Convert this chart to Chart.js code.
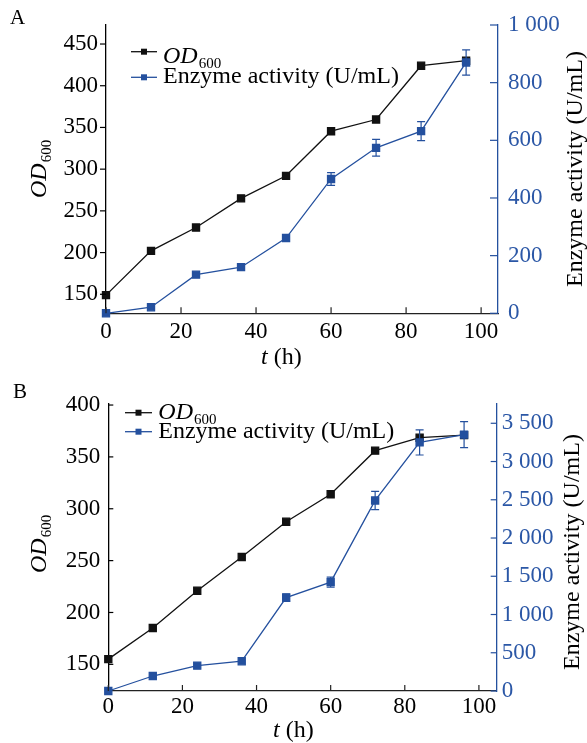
<!DOCTYPE html>
<html><head><meta charset="utf-8">
<script src="https://cdn.jsdelivr.net/npm/chart.js@4"></script>
<style>html,body{margin:0;padding:0;background:#fff;}canvas{display:block;}</style>
</head><body>
<canvas id="cA" width="587" height="370"></canvas>
<canvas id="cB" width="587" height="373"></canvas>
<script>
// ---- data ----
const timeH = [0, 12, 24, 36, 48, 60, 72, 84, 96];
const odA = [149, 202, 230, 265, 292, 345.5, 359.5, 424, 430];
const enzA = [0, 21, 134, 160, 261, 466, 574, 632, 870];
const enzErrA = [0, 0, 0, 0, 0, 22, 29, 33, 44];
const odB = [155, 185, 221, 253.5, 287.5, 314, 356, 368.5, 371];
const enzB = [0, 196, 331, 389, 1221, 1423, 2491, 3250, 3351];
const enzErrB = [0, 0, 0, 0, 50, 65, 120, 165, 170];
const xTicks = [0, 20, 40, 60, 80, 100];
const leftTicksA = [150, 200, 250, 300, 350, 400, 450];
const rightTicksA = [0, 200, 400, 600, 800, 1000];
const rightTickLabelsA = ['0', '200', '400', '600', '800', '1 000'];
const leftTicksB = [150, 200, 250, 300, 350, 400];
const rightTicksB = [0, 500, 1000, 1500, 2000, 2500, 3000, 3500];
const rightTickLabelsB = ['0', '500', '1 000', '1 500', '2 000', '2 500', '3 000', '3 500'];
const seriesNames = ['OD', '600', 'Enzyme activity (U/mL)'];
const rightTitle = 'Enzyme activity (U/mL)';
const xTitle = ['t', ' (h)'];

const BLACK = '#111111', BLUE = '#24509e', BLUE_TXT = '#2b57a6';
const FAM = "'Liberation Serif','Times New Roman',serif";
const TXT = 24, TICK = 23;
Chart.defaults.font.family = FAM;

function drawOD(ctx, x, y, size, color) {
  ctx.fillStyle = color;
  ctx.textAlign = 'left'; ctx.textBaseline = 'alphabetic';
  ctx.font = 'italic ' + size + 'px ' + FAM;
  ctx.fillText(seriesNames[0], x, y);
  const w = ctx.measureText(seriesNames[0]).width;
  ctx.font = Math.round(size * 0.64) + 'px ' + FAM;
  ctx.fillText(seriesNames[1], x + w + 1, y + 5);
}

const deco = {
  id: 'deco',
  afterDatasetsDraw(chart, args, o) {
    const ctx = chart.ctx, xs = chart.scales.x, ys = chart.scales.y1;
    ctx.save();
    ctx.strokeStyle = BLUE; ctx.lineWidth = 1.2;
    o.err.forEach((e, i) => {
      if (!e) return;
      const px = xs.getPixelForValue(timeH[i]);
      const y1 = ys.getPixelForValue(o.enz[i] - e), y2 = ys.getPixelForValue(o.enz[i] + e);
      ctx.beginPath();
      ctx.moveTo(px, y1); ctx.lineTo(px, y2);
      ctx.moveTo(px - 4, y1); ctx.lineTo(px + 4, y1);
      ctx.moveTo(px - 4, y2); ctx.lineTo(px + 4, y2);
      ctx.stroke();
    });
    ctx.restore();
  },
  afterDraw(chart, args, o) {
    const ctx = chart.ctx;
    ctx.save();
    const xs = chart.scales.x, yl = chart.scales.y, yr = chart.scales.y1;
    ctx.lineWidth = 1.2;
    ctx.strokeStyle = '#222';
    xs.ticks.forEach(t => { const p = xs.getPixelForValue(t.value); ctx.beginPath(); ctx.moveTo(p, xs.top); ctx.lineTo(p, xs.top - o.xTick); ctx.stroke(); });
    ctx.strokeStyle = '#000';
    yl.ticks.forEach(t => { const p = yl.getPixelForValue(t.value); ctx.beginPath(); ctx.moveTo(yl.right, p); ctx.lineTo(yl.right + o.lTick, p); ctx.stroke(); });
    ctx.strokeStyle = BLUE;
    yr.ticks.forEach(t => { const p = yr.getPixelForValue(t.value); ctx.beginPath(); ctx.moveTo(yr.left, p); ctx.lineTo(yr.left - o.rTick, p); ctx.stroke(); });
    // panel label
    ctx.fillStyle = '#000'; ctx.font = '21px ' + FAM; ctx.textBaseline = 'alphabetic'; ctx.textAlign = 'left';
    ctx.fillText(o.panel, o.panelPos[0], o.panelPos[1]);
    // left title
    ctx.save(); ctx.translate(o.lt[0], o.lt[1]); ctx.rotate(-Math.PI / 2);
    drawOD(ctx, 0, 0, TXT, '#000'); ctx.restore();
    // right title
    ctx.save(); ctx.translate(o.rt[0], o.rt[1]); ctx.rotate(-Math.PI / 2);
    ctx.fillStyle = '#000'; ctx.font = TXT + 'px ' + FAM; ctx.textAlign = 'left'; ctx.textBaseline = 'alphabetic';
    ctx.fillText(rightTitle, 0, 0); ctx.restore();
    // x title
    ctx.fillStyle = '#000'; ctx.font = 'italic ' + TXT + 'px ' + FAM; ctx.textAlign = 'left';
    ctx.fillText(xTitle[0], o.xt[0], o.xt[1]);
    const tw = ctx.measureText(xTitle[0]).width;
    ctx.font = TXT + 'px ' + FAM; ctx.fillText(xTitle[1], o.xt[0] + tw, o.xt[1]);
    // legend
    const L = o.lg;
    [[BLACK, L.y[0]], [BLUE, L.y[1]]].forEach(([c, y]) => {
      ctx.strokeStyle = c; ctx.lineWidth = 1.3; ctx.beginPath(); ctx.moveTo(L.x1, y); ctx.lineTo(L.x2, y); ctx.stroke();
      ctx.fillStyle = c; ctx.fillRect((L.x1 + L.x2) / 2 - 3, y - 3, 6, 6);
    });
    drawOD(ctx, L.tx, L.b[0], TXT, '#000');
    ctx.fillStyle = '#000'; ctx.font = TXT + 'px ' + FAM; ctx.textAlign = 'left';
    ctx.fillText(seriesNames[2], L.tx, L.b[1]);
    ctx.restore();
  }
};

function build(id, c) {
  const mk = (arr) => timeH.map((t, i) => ({ x: t, y: arr[i] }));
  return new Chart(document.getElementById(id), {
    type: 'line',
    data: { datasets: [
      { label: seriesNames[2], data: mk(c.enz), yAxisID: 'y1', borderColor: BLUE, backgroundColor: BLUE,
        pointBackgroundColor: BLUE, pointBorderColor: BLUE, pointStyle: 'rect', pointRadius: 5, borderWidth: 1.3,
        tension: 0, clip: false, order: 1 },
      { label: 'OD600', data: mk(c.od), yAxisID: 'y', borderColor: BLACK, backgroundColor: BLACK,
        pointBackgroundColor: BLACK, pointBorderColor: BLACK, pointStyle: 'rect', pointRadius: 5, borderWidth: 1.3,
        tension: 0, clip: false, order: 2 }
    ] },
    options: {
      responsive: false, animation: false, devicePixelRatio: 1,
      layout: { padding: { top: c.top, left: 0, right: 0, bottom: 0 } },
      plugins: { legend: { display: false }, tooltip: { enabled: false }, deco: c.deco },
      scales: {
        x: { type: 'linear', min: 0, max: c.xMax,
          afterBuildTicks: s => { s.ticks = xTicks.map(v => ({ value: v })); },
          afterFit: s => { s.height = c.xH; },
          grid: { display: false, drawTicks: false }, border: { color: '#222', width: 1.3 },
          ticks: { color: '#000', padding: c.xPad, font: { size: TICK }, maxRotation: 0, autoSkip: false } },
        y: { type: 'linear', position: 'left', min: c.lMin, max: c.lMax,
          afterBuildTicks: s => { s.ticks = c.lTicks.map(v => ({ value: v })); },
          afterFit: s => { s.width = c.lW; },
          grid: { display: false, drawTicks: false }, border: { color: '#000', width: 1.3 },
          ticks: { color: '#000', padding: 8, font: { size: TICK } } },
        y1: { type: 'linear', position: 'right', min: 0, max: c.rMax,
          afterBuildTicks: s => { s.ticks = c.rTicks.map(v => ({ value: v })); },
          afterFit: s => { s.width = c.rW; },
          grid: { display: false, drawTicks: false }, border: { color: BLUE, width: 1.3 },
          ticks: { color: BLUE_TXT, padding: c.rPad, font: { size: TICK },
            callback: v => c.rLabels[c.rTicks.indexOf(v)] } }
      }
    },
    plugins: [deco]
  });
}

build('cA', {
  od: odA, enz: enzA, top: 25, xMax: 104.5, xH: 56.7, xPad: 5,
  lMin: 127.2, lMax: 472.8, lTicks: leftTicksA, lW: 106,
  rMax: 1000, rTicks: rightTicksA, rLabels: rightTickLabelsA, rW: 89, rPad: 10,
  deco: { enz: enzA, err: enzErrA, xTick: 6, lTick: -6, rTick: 8, panel: 'A', panelPos: [10, 24],
    lt: [46, 198], rt: [582, 287], xt: [261, 364],
    lg: { x1: 131, x2: 157, tx: 163, y: [51.7, 77.3], b: [62.5, 83] } }
});
build('cB', {
  od: odB, enz: enzB, top: 34, xMax: 104.8, xH: 52, xPad: 2,
  lMin: 124.3, lMax: 401, lTicks: leftTicksB, lW: 108.3,
  rMax: 3752, rTicks: rightTicksB, rLabels: rightTickLabelsB, rW: 90.3, rPad: 5,
  deco: { enz: enzB, err: enzErrB, xTick: 6, lTick: 5, rTick: 6, panel: 'B', panelPos: [13, 28],
    lt: [46, 203], rt: [578.5, 300], xt: [273, 367],
    lg: { x1: 125, x2: 152, tx: 158.3, y: [42.7, 61.7], b: [48.5, 68.3] } }
});
</script>
</body></html>
